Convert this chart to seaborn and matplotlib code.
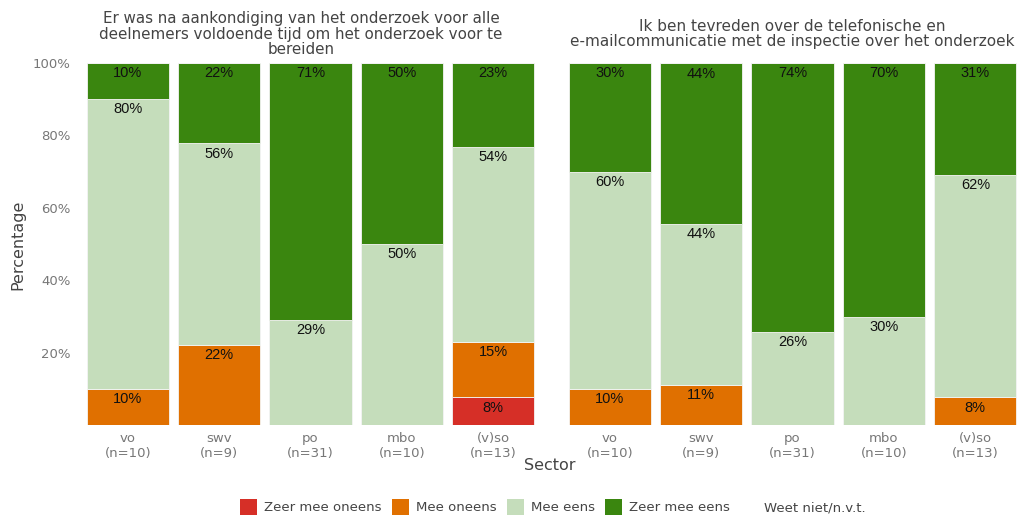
import numpy as np
import seaborn as sns
import matplotlib.pyplot as plt
from matplotlib.patches import Patch

# --- data ---
sectors = ['vo\n(n=10)', 'swv\n(n=9)', 'po\n(n=31)', 'mbo\n(n=10)', '(v)so\n(n=13)']
answers = ['Zeer mee oneens', 'Mee oneens', 'Mee eens', 'Zeer mee eens', 'Weet niet/n.v.t.']
colors = ['#d62f27', '#e07000', '#c5ddbb', '#3a860f', '#ffffff']

title_left = 'Er was na aankondiging van het onderzoek voor alle\ndeelnemers voldoende tijd om het onderzoek voor te\nbereiden'
title_right = 'Ik ben tevreden over de telefonische en\ne-mailcommunicatie met de inspectie over het onderzoek'

# percentages per answer (same order as answers), one value per sector
left_zeer_oneens = [0, 0, 0, 0, 7.7]
left_oneens = [10, 22.2, 0, 0, 15.4]
left_eens = [80, 55.6, 29.0, 50, 53.8]
left_zeer_eens = [10, 22.2, 71.0, 50, 23.1]
left_weet_niet = [0, 0, 0, 0, 0]

right_zeer_oneens = [0, 0, 0, 0, 0]
right_oneens = [10, 11.1, 0, 0, 7.7]
right_eens = [60, 44.4, 25.8, 30, 61.5]
right_zeer_eens = [30, 44.4, 74.2, 70, 30.8]
right_weet_niet = [0, 0, 0, 0, 0]

left_data = [left_zeer_oneens, left_oneens, left_eens, left_zeer_eens, left_weet_niet]
right_data = [right_zeer_oneens, right_oneens, right_eens, right_zeer_eens, right_weet_niet]

sns.set_style('white')
plt.rcParams['font.family'] = ['DejaVu Sans']

fig = plt.figure(figsize=(10.3, 5.16), dpi=100)
ax_l = fig.add_axes([0.0796, 0.176, 0.4437, 0.702])
ax_r = fig.add_axes([0.5476, 0.176, 0.4437, 0.702])


def stacked(ax, data):
    bottom = np.zeros(len(sectors))
    for vals, col in zip(data, colors):
        vals = np.array(vals, dtype=float)
        sns.barplot(x=sectors, y=vals, bottom=bottom, color=col, width=0.9,
                    edgecolor='#f4f4f4', linewidth=0.6, saturation=1, ax=ax)
        for i, v in enumerate(vals):
            if v > 0:
                ax.text(i, bottom[i] + v - 0.9, f'{v:.0f}%', ha='center', va='top',
                        fontsize=10.5, color='#111111', family='Liberation Sans')
        bottom += vals
    ax.set_xlim(-0.5, 4.5)
    ax.set_ylim(0, 100)
    ax.set_xlabel('')
    ax.set_ylabel('')
    for s in ax.spines.values():
        s.set_visible(False)
    ax.tick_params(axis='x', length=4, width=0.8, color='#444444', labelcolor='#777777',
                   labelsize=9.5, pad=1)


stacked(ax_l, left_data)
stacked(ax_r, right_data)

ax_l.set_yticks([20, 40, 60, 80, 100])
ax_l.set_yticklabels(['20%', '40%', '60%', '80%', '100%'])
ax_l.tick_params(axis='y', length=0, labelsize=9.5, labelcolor='#777777', pad=8)
ax_r.set_yticks([])

fig.text(301 / 1030, 1 - 34 / 516, title_left, ha='center', va='center',
         fontsize=10.9, color='#444444', linespacing=1.08)
fig.text(792 / 1030, 1 - 34 / 516, title_right, ha='center', va='center',
         fontsize=11.0, color='#444444', linespacing=1.08)

fig.text(18 / 1030, 1 - 245 / 516, 'Percentage', rotation=90, ha='center', va='center',
         fontsize=11.5, color='#444444')
fig.text(550 / 1030, 1 - 466 / 516, 'Sector', ha='center', va='center',
         fontsize=11.5, color='#444444')

handles = [Patch(facecolor=c, edgecolor='none') for c in colors]
fig.legend(handles, answers, loc='center', bbox_to_anchor=(553 / 1030, 1 - 507 / 516),
           ncol=5, frameon=False, fontsize=9.5, handlelength=1.3, handleheight=1.4,
           handletextpad=0.5, columnspacing=0.8, labelcolor='#444444')

fig.savefig('out.png', dpi=100)
